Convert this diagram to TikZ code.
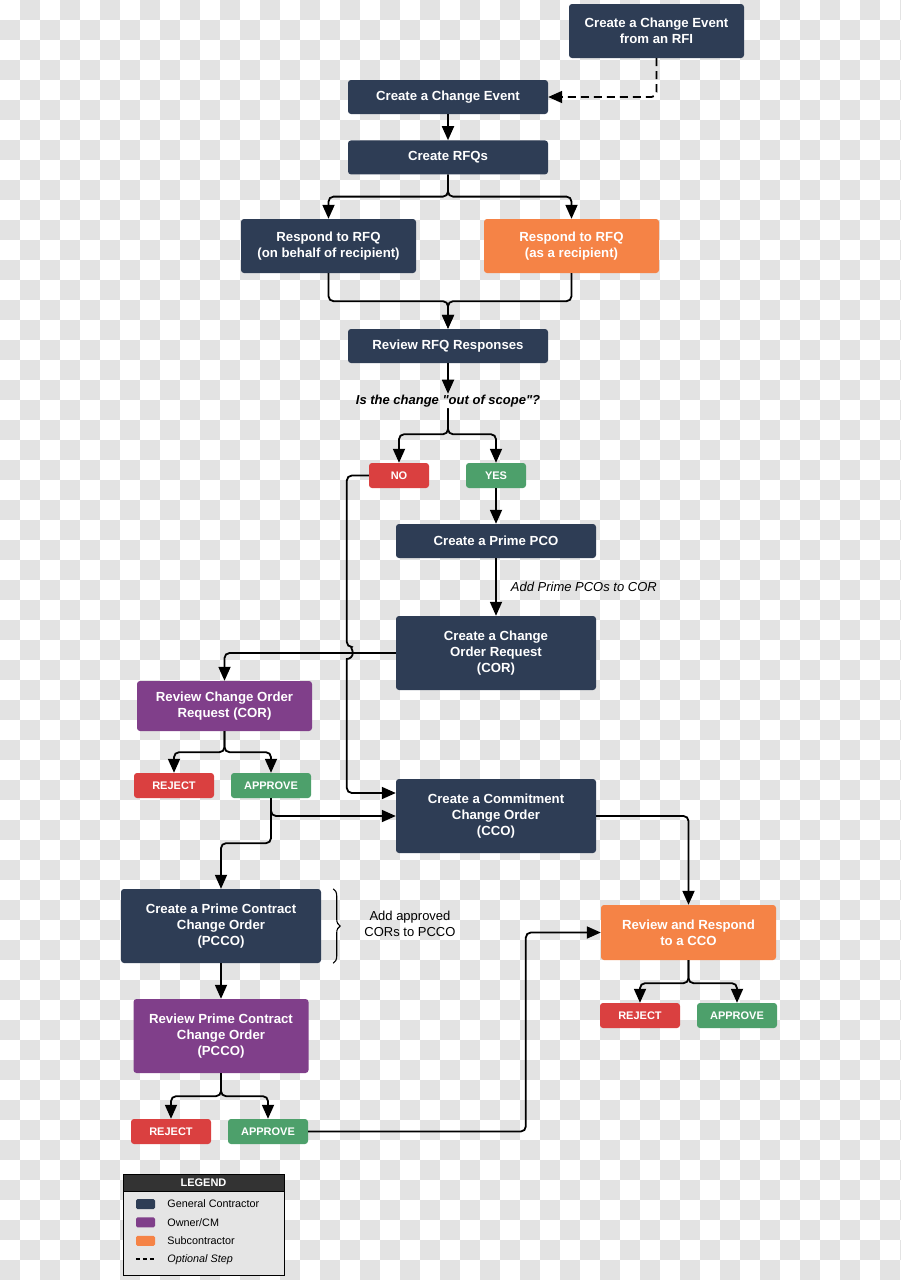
\documentclass[tikz,border=0pt]{standalone}
\usepackage{fontspec}
\setmainfont{Liberation Sans}
\usepackage{xcolor}
\usetikzlibrary{arrows.meta,positioning,calc,decorations.pathreplacing}
\definecolor{gcnavy}{HTML}{2E3D55}
\definecolor{ownpurple}{HTML}{803F8A}
\definecolor{suborange}{HTML}{F58346}
\definecolor{rejred}{HTML}{DA4040}
\definecolor{okgreen}{HTML}{4DA06B}
\definecolor{checker}{HTML}{E3E3E3}
\tikzset{
  box/.style={rectangle, rounded corners=3pt, align=center, text=white,
    font=\fontsize{13.2}{16}\selectfont\bfseries, inner sep=2pt},
  gcbox/.style={box, fill=gcnavy, minimum width=200pt, minimum height=34pt},
  ownbox/.style={box, fill=ownpurple, minimum width=175pt},
  subbox/.style={box, fill=suborange, minimum width=175pt},
  tag/.style={rectangle, rounded corners=3pt, text=white, inner sep=1pt,
    font=\fontsize{11}{13}\selectfont\bfseries, minimum width=80pt, minimum height=25pt},
  nobox/.style={tag, fill=rejred},
  okbox/.style={tag, fill=okgreen},
  question/.style={font=\fontsize{13}{16}\selectfont\bfseries\itshape, inner sep=1pt},
  lbl/.style={font=\fontsize{13}{16}\selectfont\itshape, inner sep=2pt},
  note/.style={font=\fontsize{13}{16}\selectfont, align=center, inner sep=1pt},
  conn/.style={draw=black, line width=1.8pt, rounded corners=5pt,
    -{Triangle[length=14pt, width=12pt]}},
  swatch/.style={rectangle, rounded corners=1.5pt, minimum width=19pt,
    minimum height=10pt, inner sep=0pt},
  legtxt/.style={font=\fontsize{10.8}{12}\selectfont, inner sep=1pt},
}
\begin{document}
\begin{tikzpicture}[x=1pt, y=-1pt]
  % backdrop
  \useasboundingbox (0,0) rectangle (900,1280);
  \fill[white] (0,0) rectangle (900,1280);
  \foreach \j in {0,...,63}{
    \foreach \i in {0,...,22}{
      \pgfmathtruncatemacro{\cx}{40*\i+20*mod(\j+1,2)}
      \pgfmathtruncatemacro{\cy}{20*\j}
      \fill[fill=checker] (\cx,\cy) rectangle (\cx+20,\cy+20);
    }
  }

  % steps
  \node[gcbox, minimum width=175pt, minimum height=54pt] (rfi) at (656.5,31) {Create a Change Event\\from an RFI};
  \node[gcbox] (ce) at (448,97) {Create a Change Event};
  \node[gcbox, below=26pt of ce] (rfq) {Create RFQs};
  \node[gcbox, minimum width=175pt, minimum height=54pt] (respgc) at (328.5,246) {Respond to RFQ\\(on behalf of recipient)};
  \node[subbox, minimum height=54pt] (respsub) at (571.5,246) {Respond to RFQ\\(as a recipient)};
  \node[gcbox] (review) at (448,346) {Review RFQ Responses};
  \node[question] (q) at (448,401) {Is the change \textquotedbl out of scope\textquotedbl ?};
  \node[nobox, minimum width=60pt] (no) at (399,475.5) {NO};
  \node[okbox, minimum width=60pt] (yes) at (496,475.5) {YES};
  \node[gcbox] (pco) at (496,541) {Create a Prime PCO};
  \node[gcbox, minimum height=74pt] (cor) at (496,653) {Create a Change\\Order Request\\(COR)};
  \node[ownbox, minimum height=50pt] (revcor) at (224.5,706) {Review Change Order\\Request (COR)};
  \node[nobox] (rej1) at (174,785.5) {REJECT};
  \node[okbox] (app1) at (271,785.5) {APPROVE};
  \node[gcbox, minimum height=74pt] (cco) at (496,816) {Create a Commitment\\Change Order\\(CCO)};
  \node[gcbox, minimum height=74pt] (pcco) at (221,926) {Create a Prime Contract\\Change Order\\(PCCO)};
  \node[note] (addcor) at (410,924) {Add approved\\CORs to PCCO};
  \node[ownbox, minimum height=74pt] (revpcco) at (221,1036) {Review Prime Contract\\Change Order\\(PCCO)};
  \node[nobox] (rej2) at (171,1131.5) {REJECT};
  \node[okbox] (app2) at (268,1131.5) {APPROVE};
  \node[subbox, minimum height=55pt] (rr) at (688.5,932.5) {Review and Respond\\to a CCO};
  \node[nobox] (rej3) at (640,1015.5) {REJECT};
  \node[okbox] (app3) at (737,1015.5) {APPROVE};

  % connectors
  \draw[conn, dash pattern=on 8pt off 5pt] (rfi.south) |- (ce.east);
  \draw[conn] (ce) -- (rfq);
  \draw[conn] (rfq.south) -- ++(0,22) -| (respgc.north);
  \draw[conn] (rfq.south) -- ++(0,22) -| (respsub.north);
  \draw[conn] (respgc.south) -- ++(0,28) -| (review.north);
  \draw[conn] (respsub.south) -- ++(0,28) -| (review.north);
  \draw[conn] (review) -- (q);
  \draw[conn] (q.south) -- ++(0,26) -| (no.north);
  \draw[conn] (q.south) -- ++(0,26) -| (yes.north);
  \draw[conn] (yes) -- (pco);
  \draw[conn] (pco) -- node[lbl, right=12pt]{Add Prime PCOs to COR} (cor);
  \draw[conn] (cor.west) -| (revcor.north);
  \draw[conn] (no.west) -- ++(-22,0) -- ($(cor.west)+(-49,-6)$) [sharp corners]
    arc[start angle=-90, end angle=90, radius=6] [rounded corners=5pt]
    -- ($(cco.west)+(-49,-23)$) -- ($(cco.west)+(0,-23)$);
  \draw[conn] (revcor.south) -- ++(0,21) -| (rej1.north);
  \draw[conn] (revcor.south) -- ++(0,21) -| (app1.north);
  \draw[conn] (app1.south) |- (cco.west);
  \draw[conn] (app1.south) -- ++(0,45) -| (pcco.north);
  \draw[conn] (cco.east) -| (rr.north);
  \draw[line width=1.1pt, decorate, decoration={brace, amplitude=7pt}]
    ([xshift=12pt]pcco.north east) -- ([xshift=12pt]pcco.south east);
  \draw[conn] (pcco) -- (revpcco);
  \draw[conn] (revpcco.south) -- ++(0,23) -| (rej2.north);
  \draw[conn] (revpcco.south) -- ++(0,23) -| (app2.north);
  \draw[conn] (app2.east) -| ($(rr.west)+(-75,0)$) -- (rr.west);
  \draw[conn] (rr.south) -- ++(0,23) -| (rej3.north);
  \draw[conn] (rr.south) -- ++(0,23) -| (app3.north);

  % legend
  \node[draw=black, line width=0.8pt, fill=black!80, text=white, minimum width=161pt,
    minimum height=17pt, inner sep=0pt, font=\fontsize{11}{13}\selectfont\bfseries]
    (leghead) at (203.5,1182.5) {LEGEND};
  \node[draw=black, line width=0.8pt, fill=black!10, minimum width=161pt,
    minimum height=84pt, inner sep=0pt, below=0pt of leghead] (legbody) {};
  \node[swatch, fill=gcnavy] (swgc) at (145.5,1204) {};
  \node[legtxt, right=11pt of swgc] (txgc) {General Contractor};
  \node[swatch, fill=ownpurple, below=8pt of swgc] (swown) {};
  \node[legtxt, right=11pt of swown] (txown) {Owner/CM};
  \node[swatch, fill=suborange, below=8pt of swown] (swsub) {};
  \node[legtxt, right=11pt of swsub] (txsub) {Subcontractor};
  \node[swatch, below=8pt of swsub] (swopt) {};
  \node[legtxt, right=11pt of swopt, font=\fontsize{10.8}{12}\selectfont\itshape] (txopt) {Optional Step};
  \draw[line width=1.5pt, dash pattern=on 4pt off 3pt] (swopt.west) -- (swopt.east);
\end{tikzpicture}
\end{document}
